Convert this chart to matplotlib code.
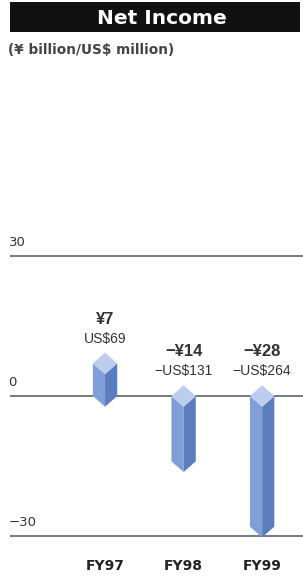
import matplotlib.pyplot as plt
from matplotlib.patches import Polygon, Rectangle

years = ["FY97", "FY98", "FY99"]
yen = [7, -14, -28]
yen_labels = ["¥7", "−¥14", "−¥28"]
usd_labels = ["US$69", "−US$131", "−US$264"]
ticks = [30, 0, -30]
tick_labels = ["30", "0", "−30"]

plt.rcParams['font.family'] = ['Liberation Sans', 'DejaVu Sans']
NARROW = ['Liberation Sans Narrow', 'Liberation Sans', 'DejaVu Sans']
WIDE = ['DejaVu Sans']

W, H = 303, 577
fig = plt.figure(figsize=(W / 100, H / 100), dpi=100)
fig.patch.set_facecolor("white")

# title bar
fig.patches.append(Rectangle((10 / W, (H - 32) / H), 290 / W, 30 / H,
                             transform=fig.transFigure, facecolor="#111111",
                             edgecolor="none"))
fig.text(162 / W, (H - 18) / H, "Net Income", color="white", fontsize=14.5,
         fontweight="bold", ha="center", va="center", family=WIDE)
fig.text(8 / W, (H - 50) / H, "(¥ billion/US$ million)", color="#444444",
         fontsize=9.8, fontweight="bold", ha="left", va="center", family=WIDE)

# axes: gridlines 30 @ y=256px, -30 @ y=536px
top_px, bot_px = 250, 545
upp = 60 / (536 - 256)
ax = fig.add_axes([10 / W, (H - bot_px) / H, 293 / W, (bot_px - top_px) / H])
ax.set_ylim(-30 - (bot_px - 536) * upp, 30 + (256 - top_px) * upp)
ax.set_xlim(-1.21, 2.52)
for s in ax.spines.values():
    s.set_visible(False)
ax.set_yticks([])
ax.set_xticks(range(len(years)))
ax.set_xticklabels(years, fontweight="bold", fontsize=10, color="#222222",
                   family=WIDE)
ax.tick_params(axis="x", length=0, pad=10)

for t, lab in zip(ticks, tick_labels):
    ax.axhline(t, color="#555555", lw=1.1, zorder=1)
    ax.annotate(lab, xy=(0, t), xycoords=("axes fraction", "data"),
                xytext=(-1, 9.5), textcoords="offset points", fontsize=9.5,
                color="#333333", ha="left", va="center", family=WIDE)

hw = 0.155  # half width in x units
d = 2.3     # diamond half height in y units
top_c, left_c, right_c = "#bccdee", "#809fd8", "#5a7dbf"
for i, v in enumerate(yen):
    hi, lo = max(v, 0), min(v, 0)
    left = Polygon([(i - hw, hi), (i, hi - d), (i, lo - d), (i - hw, lo)],
                   closed=True, facecolor=left_c, edgecolor="none", zorder=3)
    right = Polygon([(i, hi - d), (i + hw, hi), (i + hw, lo), (i, lo - d)],
                    closed=True, facecolor=right_c, edgecolor="none", zorder=3)
    top = Polygon([(i - hw, hi), (i, hi + d), (i + hw, hi), (i, hi - d)],
                  closed=True, facecolor=top_c, edgecolor="none", zorder=4)
    for p in (left, right, top):
        ax.add_patch(p)
    ax.annotate(usd_labels[i], xy=(i, hi + d), xytext=(0, 10),
                textcoords="offset points", ha="center", va="center",
                fontsize=10, color="#333333")
    ax.annotate(yen_labels[i], xy=(i, hi + d), xytext=(0, 24),
                textcoords="offset points", ha="center", va="center",
                fontsize=12, fontweight="bold", color="#333333", family=NARROW)

fig.savefig("out.png", dpi=100)
